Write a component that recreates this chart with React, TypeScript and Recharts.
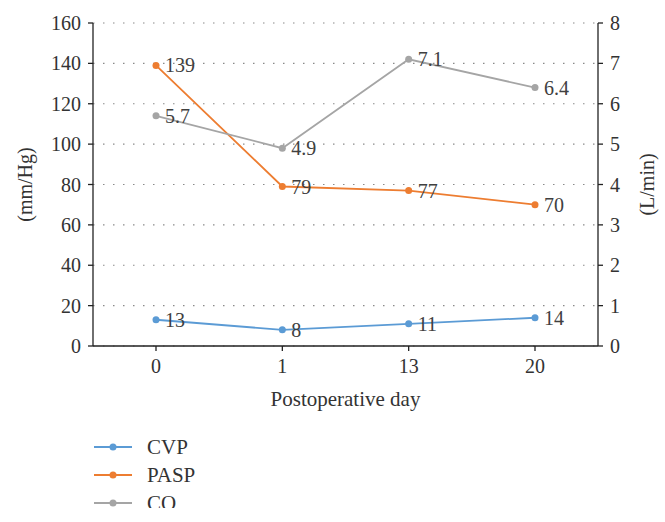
import React from 'react';
import { LineChart, Line, XAxis, YAxis, CartesianGrid, LabelList, Label } from 'recharts';

const days = ['0', '1', '13', '20'];
const cvp = [13, 8, 11, 14];
const pasp = [139, 79, 77, 70];
const co = [5.7, 4.9, 7.1, 6.4];
const leftTicks = [0, 20, 40, 60, 80, 100, 120, 140, 160];
const rightTicks = [0, 1, 2, 3, 4, 5, 6, 7, 8];

const series = [
  { key: 'CVP', name: 'CVP', color: '#5B9BD5', axis: 'left' },
  { key: 'PASP', name: 'PASP', color: '#ED7D31', axis: 'left' },
  { key: 'CO', name: 'CO', color: '#A5A5A5', axis: 'right' },
];

const data = days.map((d, i) => ({ day: d, CVP: cvp[i], PASP: pasp[i], CO: co[i] }));

const FONT = '"Liberation Serif", "DejaVu Serif", serif';
const TEXT = '#333333';

const renderValue = (props: any) => {
  const { x, y, value } = props;
  return (
    <text x={x + 9} y={y} fill="#404040" fontSize={20} fontFamily={FONT} dominantBaseline="central" textAnchor="start">
      {value}
    </text>
  );
};

const yLabel = (text: string, cx: number) => (props: any) => {
  const vb = props.viewBox || {};
  const cy = (vb.y ?? 23) + (vb.height ?? 323) / 2;
  return (
    <text x={cx} y={cy} transform={`rotate(-90 ${cx} ${cy})`} textAnchor="middle" dominantBaseline="central" fill={TEXT} fontSize={20} fontFamily={FONT}>
      {text}
    </text>
  );
};

export default function App() {
  return (
    <div style={{ position: 'absolute', left: 0, top: 0, width: 665, height: 522, background: '#fff', fontFamily: FONT }}>
      <LineChart width={665} height={522} data={data} margin={{ top: 23, right: 0, left: 0, bottom: 116 }} style={{ fontFamily: FONT }}>
        <CartesianGrid yAxisId="left" vertical={false} stroke="#8a8a8a" strokeDasharray="1.5 8.5" strokeWidth={1.2} />
        <XAxis
          dataKey="day"
          height={60}
          padding={{ left: 63, right: 63 }}
          tickSize={5}
          tickMargin={8}
          axisLine={{ stroke: '#222', strokeWidth: 1.3 }}
          tickLine={{ stroke: '#222', strokeWidth: 1.3 }}
          tick={{ fill: TEXT, fontSize: 20, fontFamily: FONT }}
        >
          <Label value="Postoperative day" position="insideBottom" offset={0} fill={TEXT} fontSize={21} fontFamily={FONT} />
        </XAxis>
        <YAxis
          yAxisId="left"
          width={93}
          domain={[0, 160]}
          ticks={leftTicks}
          interval={0}
          tickSize={5}
          tickMargin={7}
          axisLine={{ stroke: '#222', strokeWidth: 1.3 }}
          tickLine={{ stroke: '#222', strokeWidth: 1.3 }}
          tick={{ fill: TEXT, fontSize: 20, fontFamily: FONT }}
          label={yLabel('(mm/Hg)', 25)}
        />
        <YAxis
          yAxisId="right"
          orientation="right"
          width={67}
          domain={[0, 8]}
          ticks={rightTicks}
          interval={0}
          tickSize={5}
          tickMargin={7}
          axisLine={{ stroke: '#222', strokeWidth: 1.3 }}
          tickLine={{ stroke: '#222', strokeWidth: 1.3 }}
          tick={{ fill: TEXT, fontSize: 20, fontFamily: FONT }}
          label={yLabel('(L/min)', 647)}
        />
        {series.map((s) => (
          <Line
            key={s.key}
            yAxisId={s.axis}
            dataKey={s.key}
            name={s.name}
            stroke={s.color}
            strokeWidth={1.8}
            dot={{ r: 3.5, fill: s.color, stroke: s.color, strokeWidth: 0 }}
            isAnimationActive={false}
          >
            <LabelList dataKey={s.key} content={renderValue} />
          </Line>
        ))}
      </LineChart>
      <div style={{ position: 'absolute', left: 90, top: 430, width: 200, height: 78, overflow: 'hidden' }}>
        {series.map((s, i) => (
          <div key={s.key} style={{ position: 'absolute', left: 0, top: 17 + i * 28 - 14, height: 28, width: 200 }}>
            <svg width={42} height={28} style={{ position: 'absolute', left: 4, top: 0 }}>
              <line x1={0} y1={14} x2={38} y2={14} stroke={s.color} strokeWidth={1.8} />
              <circle cx={19} cy={14} r={3.5} fill={s.color} />
            </svg>
            <span style={{ position: 'absolute', left: 57, top: 0, lineHeight: '28px', fontSize: 21, color: TEXT, fontFamily: FONT }}>{s.name}</span>
          </div>
        ))}
      </div>
    </div>
  );
}
